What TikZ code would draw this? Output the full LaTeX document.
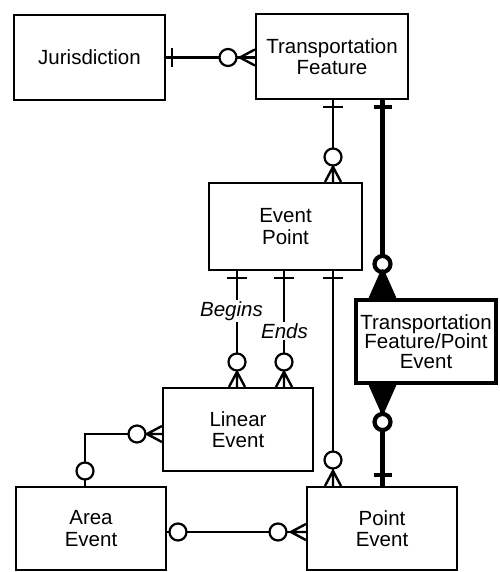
\documentclass[tikz,border=0pt]{standalone}
\usepackage{fontspec}
\setmainfont{Liberation Sans}
\usetikzlibrary{calc}
\begin{document}
\begin{tikzpicture}[x=1pt,y=1pt,
  ent/.style={draw,line width=2.2pt,rectangle,align=center,inner sep=0pt,
    font=\fontsize{20.5}{21.5}\selectfont},
  rel/.style={line width=2.2pt},
  thickrel/.style={line width=4.2pt},
  ring/.style={line width=2.2pt,fill=white},
  thickring/.style={line width=4.2pt,fill=white},
  lbl/.style={fill=white,inner sep=1pt,font=\itshape\fontsize{20.5}{21.5}\selectfont},
  crow/.pic={\draw[line width=2.4pt,line join=round] (-8,0) -- (0,15) -- (8,0) (0,0) -- (0,15);},
  bigcrow/.pic={\draw[line width=3.5pt,fill=black,line join=round] (-12,0) -- (0,27) -- (12,0) -- cycle (0,0) -- (0,27);},
]
\useasboundingbox (0,0) rectangle (499,-572);

% entities
\node[ent,minimum width=151pt,minimum height=85pt] (J) at (89.5,-57.5) {Jurisdiction};
\node[ent,minimum width=152pt,minimum height=85pt] (TF) at (332,-56.5) {Transportation\\Feature};
\node[ent,minimum width=153pt,minimum height=87pt] (EP) at (285.5,-226.5) {Event\\Point};
\node[ent,line width=4.2pt,minimum width=140pt,minimum height=83pt,
  font=\fontsize{20.5}{19.5}\selectfont] (TFPE) at (426,-341.5) {Transportation\\Feature/Point\\Event};
\node[ent,minimum width=150pt,minimum height=83pt] (LE) at (238,-429.5) {Linear\\Event};
\node[ent,minimum width=150pt,minimum height=83pt] (AE) at (91,-528.5) {Area\\Event};
\node[ent,minimum width=150pt,minimum height=83pt] (PE) at (382,-528.5) {Point\\Event};

% helper coordinates
\coordinate (xB) at (237,0);
\coordinate (xE) at (284,0);
\coordinate (xT) at (333,0);
\coordinate (xK) at (382.5,0);
\coordinate (cAL) at (85,-434);
\coordinate (yAP) at (0,-532);

% Jurisdiction -- Transportation Feature
\draw[rel] (J.east) -- (J.east -| TF.west);
\draw[rel] (172,-48) -- (172,-67);
\draw[ring] (228,-57.5) circle (8.5);
\pic[rotate=90] at (J.east -| TF.west) {crow};

% Transportation Feature -- Event Point
\draw[rel] (TF.south -| xT) -- (EP.north -| xT);
\draw[rel] (323,-107) -- (343,-107);
\draw[ring] (333,-157) circle (8.5);
\pic at (EP.north -| xT) {crow};

% Transportation Feature -- TF/Point Event (thick)
\draw[thickrel] (TF.south -| xK) -- (TFPE.north -| xK);
\draw[thickrel] (373.5,-107) -- (391.5,-107);
\draw[thickring] (382.5,-264) circle (8);
\pic at (TFPE.north -| xK) {bigcrow};

% TF/Point Event -- Point Event (thick)
\draw[thickrel] (TFPE.south -| xK) -- (PE.north -| xK);
\pic[rotate=180] at (TFPE.south -| xK) {bigcrow};
\draw[thickring] (382.5,-422) circle (8);
\draw[thickrel] (373.5,-475) -- (391.5,-475);

% Event Point -- Linear Event (Begins, Ends)
\draw[rel] (EP.south -| xB) -- (LE.north -| xB);
\draw[rel] (227,-278) -- (247,-278);
\draw[ring] (237,-362) circle (8.5);
\pic at (LE.north -| xB) {crow};
\draw[rel] (EP.south -| xE) -- (LE.north -| xE);
\draw[rel] (274,-278) -- (294,-278);
\draw[ring] (284,-362) circle (8.5);
\pic at (LE.north -| xE) {crow};
\node[lbl] (lb) at (231.5,-311) {Begins};
\node[lbl] (le) at (284.5,-331) {Ends};

% Event Point -- Point Event
\draw[rel] (EP.south -| xT) -- (PE.north -| xT);
\draw[rel] (323,-278) -- (343,-278);
\draw[ring] (333,-460) circle (8.5);
\pic at (PE.north -| xT) {crow};

% Area Event -- Linear Event
\draw[rel] (AE.north -| cAL) -- (cAL) -- (cAL -| LE.west);
\draw[ring] (85,-471) circle (8.5);
\draw[ring] (137,-434) circle (8.5);
\pic[rotate=90] at (cAL -| LE.west) {crow};

% Area Event -- Point Event
\draw[rel] (AE.east |- yAP) -- (PE.west |- yAP);
\draw[ring] (178,-532) circle (8.5);
\draw[ring] (278,-532) circle (8.5);
\pic[rotate=90] at (PE.west |- yAP) {crow};
\end{tikzpicture}
\end{document}
